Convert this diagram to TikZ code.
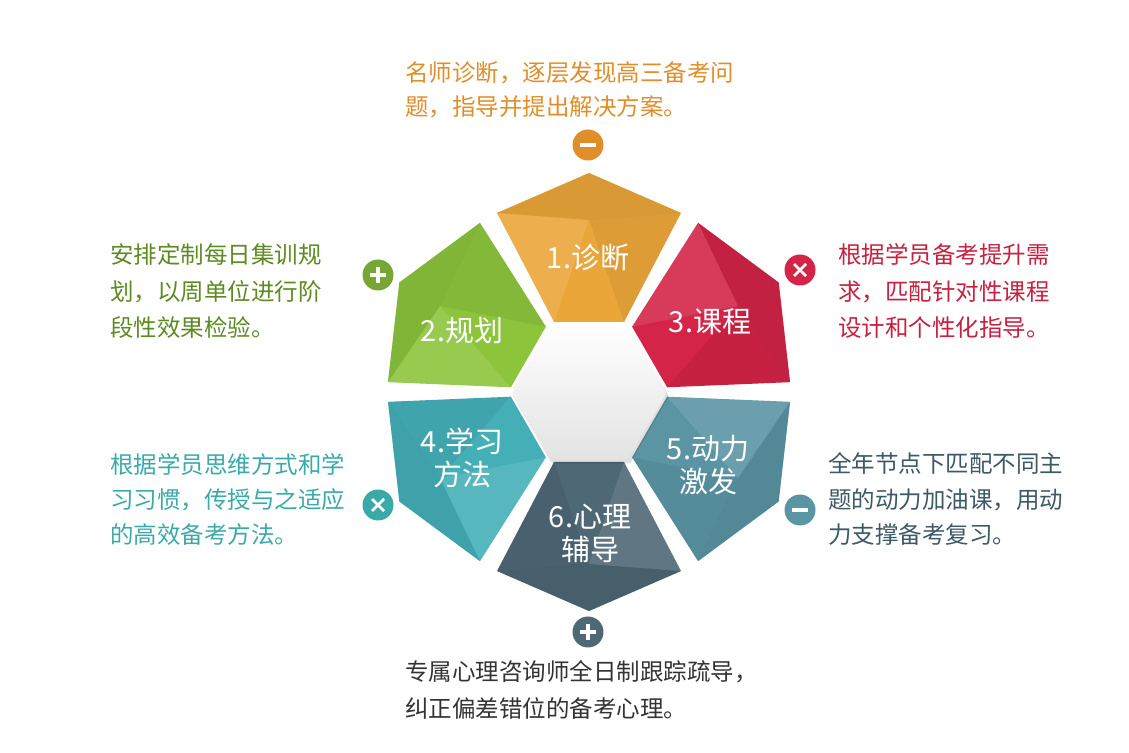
\documentclass[tikz,border=0pt]{standalone}
\usepackage{fontspec}
\setmainfont{Noto Sans CJK SC}
\usetikzlibrary{shadows}
\definecolor{cOr}{HTML}{EBA63A}
\definecolor{cRe}{HTML}{D42447}
\definecolor{cGr}{HTML}{8CC43C}
\definecolor{cTe}{HTML}{45AFB8}
\definecolor{cBl}{HTML}{5B95A4}
\definecolor{cDk}{HTML}{4E6875}
\definecolor{tOr}{HTML}{E08E2A}
\definecolor{tRe}{HTML}{C8203F}
\definecolor{tGr}{HTML}{5E8A22}
\definecolor{tTe}{HTML}{3AAAA8}
\definecolor{tBl}{HTML}{3C5A66}
\definecolor{tDk}{HTML}{333333}
\tikzset{
  desc/.style={anchor=west,font=\fontsize{23.5}{26}\selectfont,inner sep=0pt},
  plabel/.style={text=white,font=\fontsize{29}{33}\selectfont,align=center,inner sep=0pt},
  icon/.style={circle,minimum size=31pt,inner sep=0pt},
  sym/.style={white,line width=3.2pt},
}
\newcommand{\petal}[2]{%
  \begin{scope}[rotate=#1]
    \fill[#2] (-35,70) -- (-92,179) -- (0,219) -- (92,179) -- (35,70) -- cycle;
    \fill[#2!85!black,opacity=0.5] (-92,179) -- (0,219) -- (92,179) -- (0,172) -- cycle;
    \fill[white,opacity=0.1] (-92,179) -- (0,172) -- (-35,70) -- cycle;
    \fill[black,opacity=0.06] (92,179) -- (0,172) -- (35,70) -- cycle;
  \end{scope}}
\begin{document}
\begin{tikzpicture}[x=1pt,y=1pt]
\useasboundingbox (0,0) rectangle (1129,752);
\begin{scope}[shift={(589,360)}]
  \petal{0}{cOr}
  \petal{60}{cGr}
  \petal{-60}{cRe}
  \petal{120}{cTe}
  \petal{-120}{cBl}
  \petal{180}{cDk}
  \fill[black,opacity=0.12] (2,-4) ++(-78,0) -- ++(39,-67.5) -- ++(78,0) -- ++(39,67.5) -- ++(-39,67.5) -- ++(-78,0) -- cycle;
  \shade[top color=white,bottom color=gray!22,rounded corners=6pt] (-78,0) -- (-39,-67.5) -- (39,-67.5) -- (78,0) -- (39,67.5) -- (-39,67.5) -- cycle;
  \node[plabel] (p1) at (-1,134) {1.诊断};
  \node[plabel] (p2) at (-127,62) {2.规划};
  \node[plabel] (p3) at (121,70) {3.课程};
  \node[plabel] (p4) at (-127,-66) {4.学习\\方法};
  \node[plabel] (p5) at (119,-73) {5.动力\\激发};
  \node[plabel] (p6) at (1,-141) {6.心理\\辅导};
\end{scope}
% icons
\node[icon,fill=tOr] (i1) at (588,607) {}; \draw[sym] (580,607) -- (596,607);
\node[icon,fill=cGr!85!black] (i2) at (378,477) {}; \draw[sym] (370,477) -- (386,477) (378,469) -- (378,485);
\node[icon,fill=cRe] (i3) at (800,482) {}; \draw[sym,line width=2.6pt] (794,476) -- (806,488) (794,488) -- (806,476);
\node[icon,fill=tTe] (i4) at (378,247) {}; \draw[sym,line width=2.6pt] (372,241) -- (384,253) (372,253) -- (384,241);
\node[icon,fill=cBl] (i5) at (800,242) {}; \draw[sym] (792,242) -- (808,242);
\node[icon,fill=cDk] (i6) at (588,120) {}; \draw[sym] (580,120) -- (596,120) (588,112) -- (588,128);
% descriptions
\node[desc,text=tOr] (t1a) at (405,679) {名师诊断，逐层发现高三备考问};
\node[desc,text=tOr] (t1b) at (405,645) {题，指导并提出解决方案。};
\node[desc,text=tGr] (t2a) at (110,497) {安排定制每日集训规};
\node[desc,text=tGr] (t2b) at (110,460) {划，以周单位进行阶};
\node[desc,text=tGr] (t2c) at (110,424) {段性效果检验。};
\node[desc,text=tRe] (t3a) at (838,497) {根据学员备考提升需};
\node[desc,text=tRe] (t3b) at (838,460) {求，匹配针对性课程};
\node[desc,text=tRe] (t3c) at (838,424) {设计和个性化指导。};
\node[desc,text=tTe] (t4a) at (110,287) {根据学员思维方式和学};
\node[desc,text=tTe] (t4b) at (110,252) {习习惯，传授与之适应};
\node[desc,text=tTe] (t4c) at (110,217) {的高效备考方法。};
\node[desc,text=tBl] (t5a) at (828,289) {全年节点下匹配不同主};
\node[desc,text=tBl] (t5b) at (828,252) {题的动力加油课，用动};
\node[desc,text=tBl] (t5c) at (828,217) {力支撑备考复习。};
\node[desc,text=tDk] (t6a) at (405,80) {专属心理咨询师全日制跟踪疏导，};
\node[desc,text=tDk] (t6b) at (405,44) {纠正偏差错位的备考心理。};
\end{tikzpicture}
\end{document}
